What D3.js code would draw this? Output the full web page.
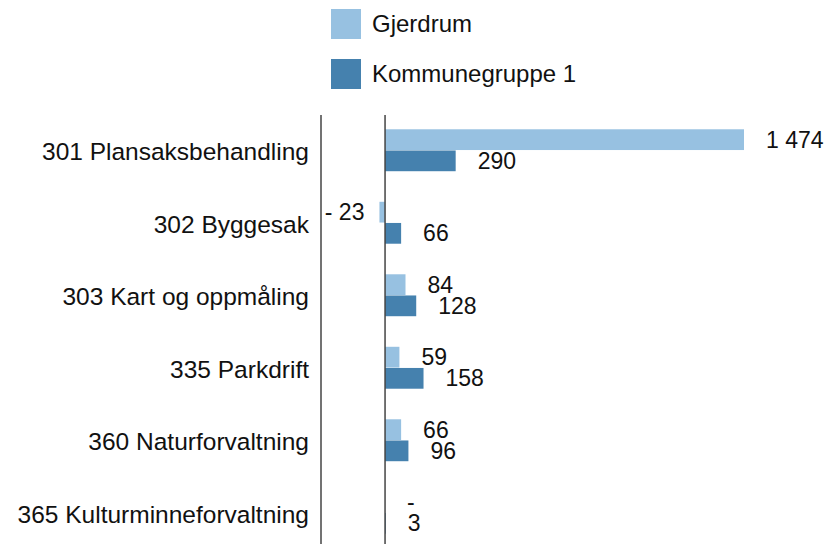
<!DOCTYPE html>
<head>
<meta charset="utf-8">
<style>
body { margin: 0; background: #fff; }
text { font-family: "Liberation Sans", Arial, sans-serif; font-size: 23px; fill: #111; }
.legend text { font-size: 24px; }
.axisline { stroke: #444; stroke-width: 1.5; }
</style>
</head>
<body>
<script src="https://d3js.org/d3.v7.min.js"></script>
<script>

// data
var categories = ["301 Plansaksbehandling", "302 Byggesak", "303 Kart og oppmåling",
                  "335 Parkdrift", "360 Naturforvaltning", "365 Kulturminneforvaltning"];
var seriesNames = ["Gjerdrum", "Kommunegruppe 1"];
var gjerdrum = [1474, -23, 84, 59, 66, null];
var kommunegruppe = [290, 66, 128, 158, 96, 3];
var colors = ["#97c1e1", "#4581ae"];

var width = 828, height = 544;

var svg = d3.select("body").append("svg")
    .attr("width", width)
    .attr("height", height);

// scales
var x = d3.scaleLinear()
    .domain([-263, 1474])
    .range([321, 744]);

var y = d3.scaleBand()
    .domain(categories)
    .range([114, 549])
    .paddingInner(0.41)
    .paddingOuter(0.205);

var ySub = d3.scaleBand()
    .domain(seriesNames)
    .range([0, y.bandwidth()])
    .padding(0.02);

var color = d3.scaleOrdinal().domain(seriesNames).range(colors);

// build rows
var rows = [];
categories.forEach(function(c, i) {
  rows.push({cat: c, series: seriesNames[0], value: gjerdrum[i]});
  rows.push({cat: c, series: seriesNames[1], value: kommunegruppe[i]});
});

function fmt(v) {
  if (v === null) return "-";
  var s = d3.format(",")(Math.abs(v)).replace(/,/g, " ");
  return v < 0 ? "- " + s : s;
}

// bars
svg.selectAll(".bar")
    .data(rows.filter(function(d) { return d.value !== null; }))
  .enter().append("rect")
    .attr("class", "bar")
    .attr("x", function(d) { return x(Math.min(0, d.value)); })
    .attr("width", function(d) { return Math.abs(x(d.value) - x(0)); })
    .attr("y", function(d) { return y(d.cat) + ySub(d.series); })
    .attr("height", ySub.bandwidth())
    .attr("fill", function(d) { return color(d.series); });

// value labels
svg.selectAll(".val")
    .data(rows)
  .enter().append("text")
    .attr("class", "val")
    .attr("x", function(d) {
      if (d.value === null) return x(0) + 22;
      return d.value < 0 ? x(d.value) - 15 : x(d.value) + 22;
    })
    .attr("y", function(d) { return y(d.cat) + ySub(d.series) + ySub.bandwidth() / 2; })
    .attr("dy", "0.35em")
    .attr("text-anchor", function(d) { return d.value !== null && d.value < 0 ? "end" : "start"; })
    .text(function(d) { return fmt(d.value); });

// axis lines
svg.append("line").attr("class", "axisline")
    .attr("x1", x.range()[0]).attr("x2", x.range()[0])
    .attr("y1", 115).attr("y2", height);
svg.append("line").attr("class", "axisline")
    .attr("x1", x(0)).attr("x2", x(0))
    .attr("y1", 115).attr("y2", height);

// category labels
svg.append("g")
    .attr("transform", "translate(" + (x.range()[0] - 12) + ",0)")
    .call(d3.axisLeft(y).tickSize(0).tickPadding(0))
    .call(function(g) { g.select(".domain").remove(); })
    .selectAll("text")
    .attr("y", 2)
    .style("font-size", "24.5px")
    .style("font-family", "'Liberation Sans', Arial, sans-serif")
    .attr("fill", "#111");

// legend
var legend = svg.selectAll(".legend")
    .data(seriesNames)
  .enter().append("g")
    .attr("class", "legend")
    .attr("transform", function(d, i) { return "translate(331," + (9 + i * 50) + ")"; });

legend.append("rect")
    .attr("width", 30)
    .attr("height", 30)
    .attr("fill", function(d) { return color(d); });

legend.append("text")
    .attr("x", 41)
    .attr("y", 15)
    .attr("dy", "0.35em")
    .text(function(d) { return d; });

</script>
</body>
</html>
